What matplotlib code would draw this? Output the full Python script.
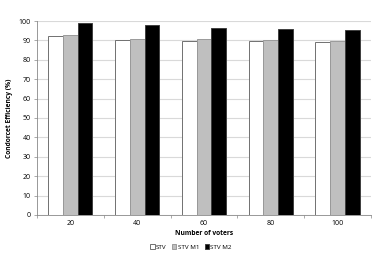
import numpy as np
import matplotlib.pyplot as plt

voters = ["20", "40", "60", "80", "100"]
stv = [92.1, 90.0, 89.9, 89.5, 89.0]
stv_m1 = [92.8, 90.5, 90.5, 90.0, 89.5]
stv_m2 = [98.8, 97.8, 96.6, 95.9, 95.2]

plt.rcParams['font.family'] = ['Open Sans', 'DejaVu Sans']

fig = plt.figure(figsize=(3.82, 2.7), dpi=100)
ax = fig.add_axes([0.097, 0.204, 0.874, 0.718])

x = np.arange(len(voters))
w = 0.22
edge = '#707070'
ax.bar(x - w, stv, w, color='white', edgecolor=edge, linewidth=0.7, label='STV', zorder=3)
ax.bar(x, stv_m1, w, color='#bfbfbf', edgecolor='#9a9a9a', linewidth=0.7, label='STV M1', zorder=3)
ax.bar(x + w, stv_m2, w, color='black', edgecolor='#404040', linewidth=0.7, label='STV M2', zorder=3)

ax.set_xlim(-0.5, len(voters) - 0.5)
ax.set_ylim(0, 100)
ax.set_yticks(np.arange(0, 101, 10))
ax.set_xticks(x)
ax.set_xticklabels(voters)
ax.set_xticks(np.arange(-0.5, len(voters), 1), minor=True)
ax.tick_params(axis='x', which='major', length=0, labelsize=5, pad=4)
ax.tick_params(axis='x', which='minor', length=2.5, width=0.5, color='#888888')
ax.tick_params(axis='y', length=2.5, width=0.5, color='#888888', labelsize=5, pad=2)
ax.yaxis.grid(True, color='#d9d9d9', linewidth=0.8, zorder=0)
ax.set_axisbelow(True)

for s in ['top', 'right']:
    ax.spines[s].set_visible(False)
for s in ['left', 'bottom']:
    ax.spines[s].set_color('#888888')
    ax.spines[s].set_linewidth(0.6)

ax.set_xlabel('Number of voters', fontsize=4.8, fontweight='bold', labelpad=2)
ax.set_ylabel('Condorcet Efficiency (%)', fontsize=4.8, fontweight='bold', labelpad=4)

fig.legend(loc='center', bbox_to_anchor=(0.5, 0.085), ncol=3, frameon=False,
           fontsize=4.5, handlelength=0.7, handleheight=0.7, handletextpad=0.2,
           columnspacing=0.9)

fig.savefig('out.png', dpi=100)
